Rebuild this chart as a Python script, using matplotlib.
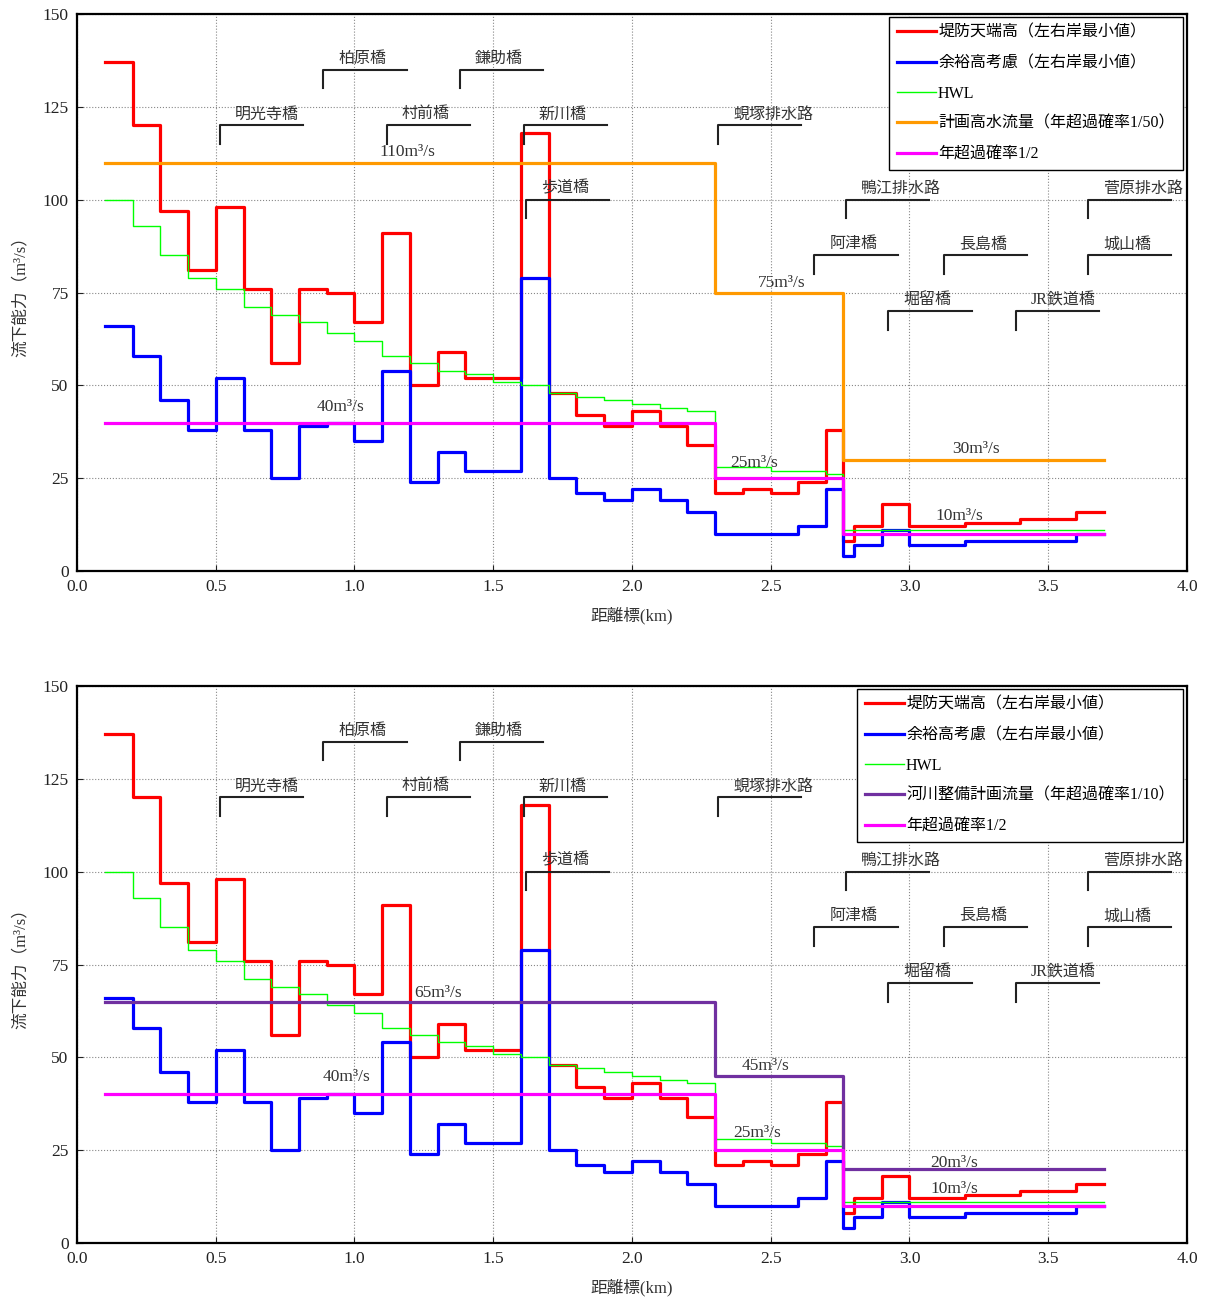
import matplotlib
matplotlib.use("Agg")
import matplotlib.pyplot as plt

plt.rcParams['font.family'] = ['Liberation Serif', 'Noto Sans CJK JP', 'DejaVu Sans']

# 距離標 (km) - section boundaries
edges = [0.1, 0.2, 0.3, 0.4, 0.5, 0.6, 0.7, 0.8, 0.9, 1.0,
         1.1, 1.2, 1.3, 1.4, 1.5, 1.6, 1.7, 1.8, 1.9, 2.0,
         2.1, 2.2, 2.3, 2.4, 2.5, 2.6, 2.7, 2.76, 2.8, 2.9,
         3.0, 3.1, 3.2, 3.3, 3.4, 3.5, 3.6, 3.7]

# 堤防天端高（左右岸最小値）
levee = [137, 120, 97, 81, 98, 76, 56, 76, 75, 67,
         91, 50, 59, 52, 52, 118, 48, 42, 39, 43,
         39, 34, 21, 22, 21, 24, 38, 8, 12, 18,
         12, 12, 13, 13, 14, 14, 16]

# 余裕高考慮（左右岸最小値）
freeboard = [66, 58, 46, 38, 52, 38, 25, 39, 40, 35,
             54, 24, 32, 27, 27, 79, 25, 21, 19, 22,
             19, 16, 10, 10, 10, 12, 22, 4, 7, 11,
             7, 7, 8, 8, 8, 8, 10]

# HWL
hwl = [100, 93, 85, 79, 76, 71, 69, 67, 64, 62,
       58, 56, 54, 53, 51, 50, 48, 47, 46, 45,
       44, 43, 28, 28, 27, 27, 26, 11, 11, 11,
       11, 11, 11, 11, 11, 11, 11]

flow_edges = [0.1, 2.3, 2.76, 3.7]
plan_flow = [110, 75, 30]      # 計画高水流量 1/50
river_flow = [65, 45, 20]      # 河川整備計画流量 1/10
flow_half = [40, 25, 10]       # 年超過確率1/2

# structures: name, km, bracket height
structures = [
    ("明光寺橋", 0.515, 120), ("柏原橋", 0.888, 135), ("村前橋", 1.116, 120),
    ("鎌助橋", 1.38, 135), ("新川橋", 1.61, 120), ("歩道橋", 1.618, 100),
    ("蜆塚排水路", 2.31, 120), ("鴨江排水路", 2.77, 100), ("菅原排水路", 3.642, 100),
    ("阿津橋", 2.657, 85), ("長島橋", 3.123, 85), ("城山橋", 3.642, 85),
    ("堀留橋", 2.924, 70), ("JR鉄道橋", 3.383, 70),
]


def steps(ax, x, v, **kw):
    ax.step(x, list(v) + [v[-1]], where='post', **kw)


def panel(ax, flow, flow_label, flow_color, flow_texts, half_texts):
    steps(ax, edges, levee, color='#FF0000', lw=2.3, label='堤防天端高（左右岸最小値）')
    steps(ax, edges, freeboard, color='#0000FF', lw=2.3, label='余裕高考慮（左右岸最小値）')
    steps(ax, edges, hwl, color='#00FF00', lw=1.0, label='HWL')
    steps(ax, flow_edges, flow, color=flow_color, lw=2.3, label=flow_label)
    steps(ax, flow_edges, flow_half, color='#FF00FF', lw=2.3, label='年超過確率1/2')

    for x, y, v in flow_texts + half_texts:
        ax.text(x, y, f"{v}m³/s", ha='center', va='center', fontsize=12.5, color='#333333')

    for name, x0, y0 in structures:
        ax.plot([x0, x0, x0 + 0.3], [y0 - 5, y0, y0], color='#222222', lw=1.5)
        ax.text(x0 + 0.055, y0 + 0.8, name, ha='left', va='bottom', fontsize=11.5, color='#333333')

    ax.set_xlim(0, 4)
    ax.set_ylim(0, 150)
    ax.set_xticks([0, 0.5, 1.0, 1.5, 2.0, 2.5, 3.0, 3.5, 4.0])
    ax.set_xticklabels(["0.0", "0.5", "1.0", "1.5", "2.0", "2.5", "3.0", "3.5", "4.0"])
    ax.set_yticks([0, 25, 50, 75, 100, 125, 150])
    ax.tick_params(direction='in', labelsize=12.5, length=4, colors='#222222', pad=6)
    ax.grid(True, linestyle=':', color='#888888', lw=0.8)
    for s in ax.spines.values():
        s.set_linewidth(1.6)
        s.set_color('black')
    ax.set_xlabel("距離標(km)", fontsize=12, color='#333333', labelpad=8)
    ax.set_ylabel("流下能力（m³/s）", fontsize=12, color='#333333', labelpad=10)
    leg = ax.legend(loc='upper right', bbox_to_anchor=(0.996, 0.995), fontsize=11.5,
                    fancybox=False, edgecolor='black', framealpha=1,
                    handlelength=2.4, handletextpad=0.15, labelspacing=0.9,
                    borderpad=0.5, borderaxespad=0)
    leg.get_frame().set_linewidth(1.0)


fig = plt.figure(figsize=(12.07, 12.99), dpi=100)
ax1 = fig.add_axes([0.0638, 0.5604, 0.9196, 0.4288])
ax2 = fig.add_axes([0.0638, 0.0431, 0.9196, 0.4288])

panel(ax1, plan_flow, '計画高水流量（年超過確率1/50）', '#FF9900',
      [(1.19, 112.8, 110), (2.54, 77.5, 75), (3.24, 32.8, 30)],
      [(0.95, 44.2, 40), (2.44, 29.2, 25), (3.18, 14.8, 10)])
panel(ax2, river_flow, '河川整備計画流量（年超過確率1/10）', '#7030A0',
      [(1.30, 67.3, 65), (2.48, 47.7, 45), (3.16, 21.5, 20)],
      [(0.97, 44.7, 40), (2.45, 29.6, 25), (3.16, 14.5, 10)])

fig.savefig("out.png", dpi=100)
